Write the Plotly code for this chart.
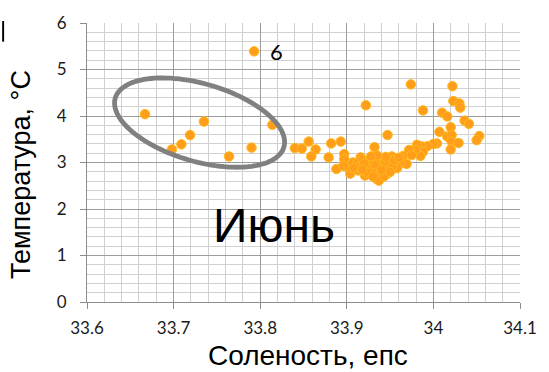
import math
import plotly.graph_objects as go

# Salinity (psu) and temperature (°C) of the June stations
salinity = [
    33.667, 33.698, 33.709, 33.719, 33.735, 33.764, 33.790, 33.793, 33.814,
    33.840, 33.848, 33.856, 33.864, 33.859, 33.879, 33.882, 33.893, 33.897,
    33.897, 33.888, 33.922, 33.932, 33.947, 33.974, 33.988, 34.022, 34.023,
    34.030, 34.031, 34.010, 34.016, 34.036, 34.041, 34.020, 34.007, 34.016,
    34.021, 34.021, 34.029, 34.020, 34.053, 34.050, 34.004, 34.000, 33.993,
    33.986, 33.981, 33.988, 33.985, 33.979, 33.972, 33.975, 33.965, 33.963,
    33.969, 33.962, 33.952, 33.958, 33.947,
    33.901, 33.904, 33.910, 33.916, 33.913, 33.921, 33.922, 33.929, 33.931,
    33.934, 33.937, 33.939, 33.941, 33.944, 33.949, 33.947, 33.937, 33.907,
    33.912, 33.918, 33.925, 33.927, 33.933, 33.943, 33.953, 33.945, 33.935,
    33.924, 33.915, 33.928, 33.950, 33.940, 33.920, 33.908, 33.896, 33.955,
    33.960, 33.930, 33.918,
]
temperature = [
    4.04, 3.28, 3.39, 3.59, 3.88, 3.13, 3.32, 5.39, 3.81,
    3.31, 3.30, 3.45, 3.28, 3.13, 3.11, 3.41, 3.45, 3.18,
    3.07, 2.86, 4.23, 3.33, 3.59, 4.68, 4.12, 4.64, 4.32,
    4.27, 4.18, 4.07, 3.99, 3.90, 3.83, 3.76, 3.66, 3.56,
    3.59, 3.45, 3.42, 3.28, 3.57, 3.48, 3.41, 3.40, 3.35,
    3.35, 3.38, 3.23, 3.14, 3.27, 3.27, 3.16, 3.14, 3.09,
    2.97, 2.98, 3.13, 2.88, 3.00,
    2.90, 2.76, 2.95, 3.11, 2.83, 2.72, 2.86, 2.81, 3.00,
    2.65, 3.00, 2.76, 2.90, 3.02, 2.86, 2.76, 2.61, 3.00,
    2.98, 3.05, 2.92, 3.07, 2.95, 2.70, 2.92, 3.12, 3.15,
    2.78, 2.90, 3.13, 2.80, 2.84, 2.98, 2.88, 2.93, 3.05,
    3.10, 2.70, 2.85,
]

x_ticks = [33.6, 33.7, 33.8, 33.9, 34.0, 34.1]
x_ticktext = ["33.6", "33.7", "33.8", "33.9", "34", "34.1"]
y_ticks = [0, 1, 2, 3, 4, 5, 6]

outlier_label = "6"
month_label = "Июнь"

# Figure / plot-area geometry (pixels)
W, H = 549, 372
L, R, T, B = 87, 531, 18, 302
X0, X1 = 33.6, 34.1
Y0, Y1 = 0.0, 6.0
px_per_x = (R - L) / (X1 - X0)
px_per_y = (B - T) / (Y1 - Y0)


def paper_x(px):
    return (px - L) / (R - L)


def paper_y(py):
    return (B - py) / (B - T)


fig = go.Figure()

fig.add_trace(go.Scatter(
    x=salinity, y=temperature, mode="markers",
    marker=dict(size=9.5, color="#FF9E1B", line=dict(color="#FFB81C", width=1)),
    showlegend=False, hoverinfo="x+y",
))

# Tilted ellipse around the low-salinity group
ell_cx, ell_cy = 33.730, 3.858      # centre, data units
ell_a, ell_b = 90.0, 39.6           # semi-axes, pixels
ell_angle = math.radians(16.0)      # clockwise tilt on screen
path = []
n = 120
for i in range(n + 1):
    t = 2 * math.pi * i / n
    dx = ell_a * math.cos(t) * math.cos(ell_angle) - ell_b * math.sin(t) * math.sin(ell_angle)
    dy = ell_a * math.cos(t) * math.sin(ell_angle) + ell_b * math.sin(t) * math.cos(ell_angle)
    xd = ell_cx + dx / px_per_x
    yd = ell_cy - dy / px_per_y
    path.append(("M" if i == 0 else "L") + f"{xd:.5f},{yd:.5f}")
fig.add_shape(type="path", path=" ".join(path) + " Z", xref="x", yref="y",
              line=dict(color="#808080", width=4.8), layer="above")

# Edge mark at the top-left corner
fig.add_shape(type="rect", xref="paper", yref="paper",
              x0=paper_x(0), x1=paper_x(2), y0=paper_y(37), y1=paper_y(16),
              fillcolor="black", line=dict(width=0))

tick_font = dict(family="Lato, Carlito, 'Noto Sans', sans-serif", size=17, color="#1a1a1a")
axis_common = dict(
    showline=True, linecolor="#8c8c8c", linewidth=1,
    ticks="outside", ticklen=6, tickcolor="#8c8c8c", tickwidth=1,
    showgrid=True, gridcolor="#9c9c9c", gridwidth=1,
    zeroline=False, tickfont=tick_font,
)

fig.update_xaxes(range=[X0, X1], tickvals=x_ticks, ticktext=x_ticktext,
                 ticklabelstandoff=5,
                 minor=dict(dtick=0.02, tick0=33.6, showgrid=True, gridcolor="#d0d0d0", ticks=""),
                 **axis_common)
fig.update_yaxes(range=[Y0, Y1], tickvals=y_ticks,
                 ticklabelstandoff=10,
                 minor=dict(dtick=0.2, tick0=0, showgrid=True, gridcolor="#d0d0d0", ticks=""),
                 **axis_common)

title_font = dict(family="Liberation Sans, Arial, sans-serif", size=28, color="black")
fig.add_annotation(text="Соленость, епс", xref="paper", yref="paper",
                   x=paper_x(314), y=paper_y(356), showarrow=False,
                   font=title_font, xanchor="center", yanchor="middle")
fig.add_annotation(text="Температура, °C", xref="paper", yref="paper",
                   x=paper_x(20), y=paper_y(172), showarrow=False, textangle=-90,
                   font=dict(family="Liberation Sans, Arial, sans-serif", size=27, color="black"),
                   xanchor="center", yanchor="middle")

fig.add_annotation(text=month_label, x=33.816, y=1.65, xref="x", yref="y",
                   showarrow=False,
                   font=dict(family="Liberation Sans, Arial, sans-serif", size=48, color="black"))
fig.add_annotation(text=outlier_label, x=salinity[7], y=temperature[7], xref="x", yref="y",
                   showarrow=False, xanchor="left", xshift=14,
                   font=dict(family="Lato, Carlito, sans-serif", size=22, color="black"))

fig.update_layout(
    width=W, height=H,
    margin=dict(l=L, r=W - R, t=T, b=H - B, pad=0),
    paper_bgcolor="white", plot_bgcolor="white",
    showlegend=False,
)

fig.write_html("out.html")
